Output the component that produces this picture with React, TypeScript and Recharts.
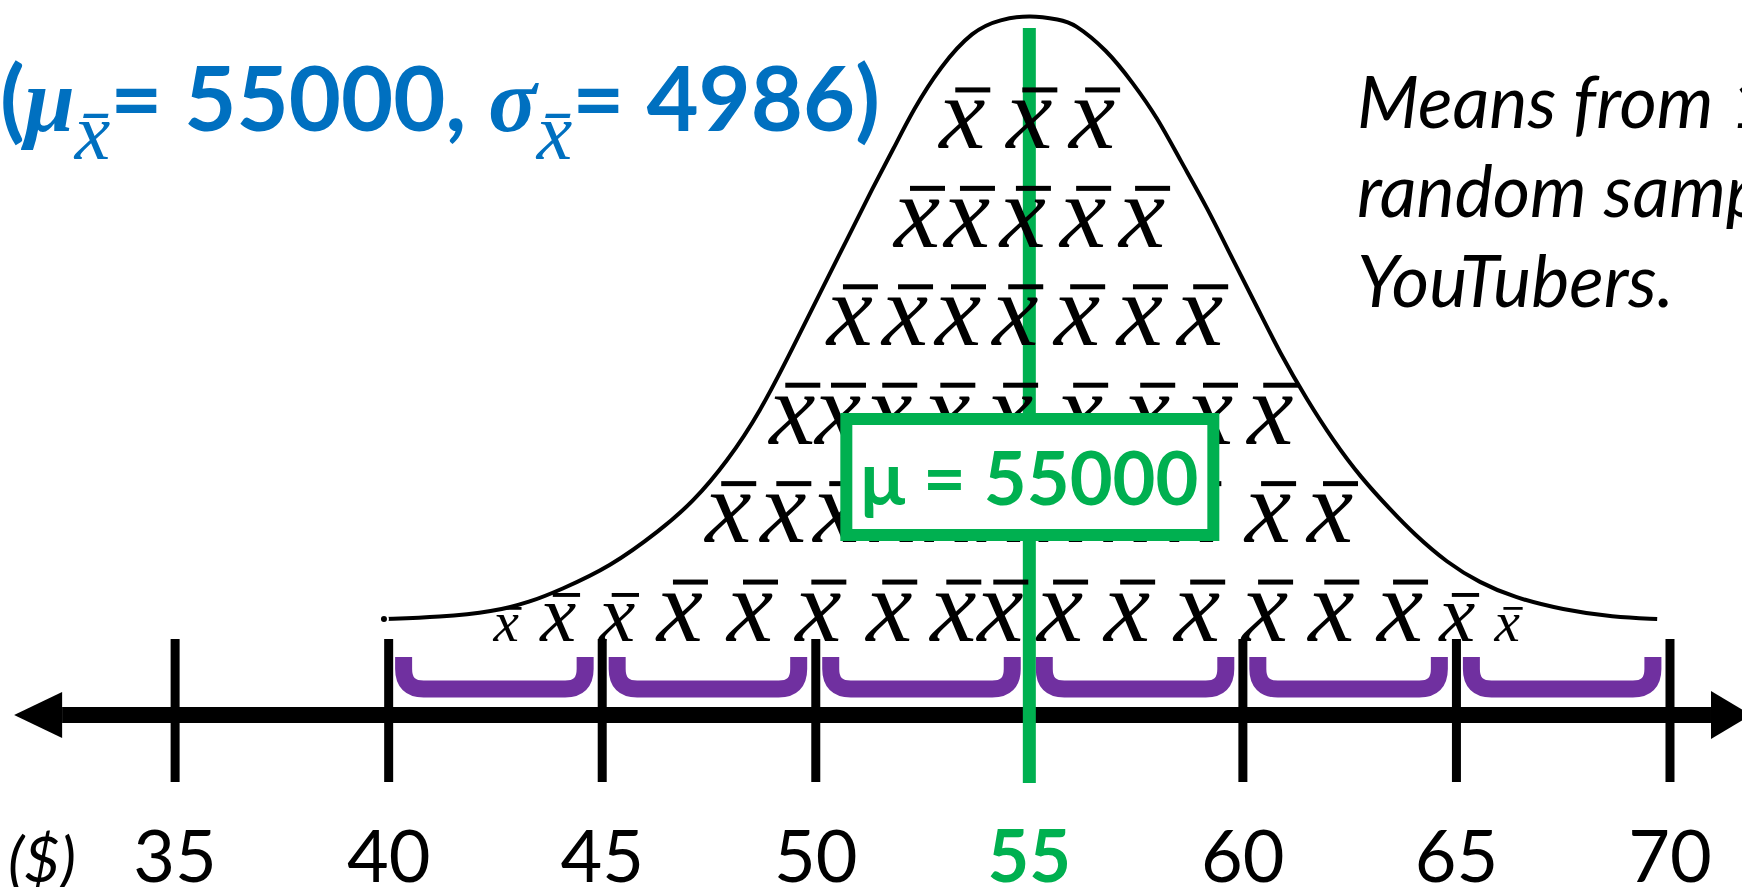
import React from "react";
import {
  ComposedChart,
  Line,
  Scatter,
  XAxis,
  YAxis,
  ReferenceLine,
  ReferenceDot,
  ReferenceArea,
} from "recharts";

// sampling distribution of the mean, in $1000s
const MEAN = 55;
const tickValues = [35, 40, 45, 50, 55, 60, 65, 70];

// bell curve (x in $1000s, height in % of the peak)
const curveX = [
  39.89, 41.2, 42.45, 43.31, 44.01, 45.18, 46.36, 47.13, 47.92, 48.7, 49.47,
  50.1, 50.73, 51.34, 51.81, 52.28, 52.91, 53.68, 54.32, 55.02, 55.72, 56.03,
  56.82, 57.43, 57.99, 58.53, 59.16, 59.77, 60.33, 60.87, 61.5, 62.11, 62.75,
  63.52, 63.99, 64.78, 65.55, 66.33, 67.5, 68.67, 69.7,
];
const curveHeight = [
  0, 0.3, 1.2, 2.8, 4.8, 8.6, 14.7, 19.4, 26.0, 34.3, 45.0, 54.0, 62.8, 71.5,
  77.7, 84.3, 91.4, 97.5, 99.3, 100, 99.2, 98.7, 94.2, 88.7, 83.1, 76.0, 68.2,
  59.4, 51.7, 44.0, 36.3, 29.6, 23.5, 17.6, 14.2, 9.3, 6.0, 3.6, 1.5, 0.3, 0,
];

// each x-bar is one sample mean, stacked in rows (row 1 = bottom)
const row1 = [
  42.75, 43.97, 45.35, 46.82, 48.46, 50.06, 51.72, 53.22, 54.32, 55.72, 57.29,
  58.93, 60.52, 62.07, 63.68, 65.02, 66.19,
];
const row2 = [47.95, 49.24, 50.48, 51.81, 53.1, 54.32, 55.77, 57.29, 58.84, 60.59, 62.04];
const row3 = [49.45, 50.52, 51.72, 53.08, 54.55, 56.19, 57.76, 59.23, 60.64];
const row4 = [50.8, 52.09, 53.33, 54.67, 56.12, 57.59, 59.0];
const row5 = [52.37, 53.54, 54.85, 56.26, 57.64];
const row6 = [53.43, 55.0, 56.47];
const rows = [row1, row2, row3, row4, row5, row6];

// purple brackets: one per $5000 bin
const binStarts = [40, 45, 50, 55, 60, 65];
const BIN_WIDTH = 5;

const GREEN = "#00B050";
const BLUE = "#0070C0";
const PURPLE = "#7030A0";
const SANS = "Lato, 'Open Sans', sans-serif";
const SERIF = "'Liberation Serif', 'DejaVu Serif', serif";

const curveData = curveX.map((x, i) => ({ x, h: curveHeight[i] }));
const meanData = rows.flatMap((row, i) => row.map((x) => ({ x, level: i + 1 })));

const XBar = (props: any) => {
  const { cx, cy, payload } = props;
  if (cx == null || cy == null) return null;
  const d = Math.abs(payload.x - MEAN);
  const s = d > 11.1 ? 0.55 : d > 9.5 ? 0.78 : 1;
  const gy = cy + 24 * (1 - s);
  return (
    <g>
      <text
        x={cx}
        y={gy + 24 * s}
        textAnchor="middle"
        fontFamily={SERIF}
        fontStyle="italic"
        fontSize={104 * s}
        fill="#000"
      >
        x
      </text>
      <rect x={cx - 7 * s} y={gy - 37 * s} width={35 * s} height={5 * s} fill="#000" />
    </g>
  );
};

const Bracket = (props: any) => {
  const { x, y, width, height } = props;
  const r = 20;
  const d = `M${x},${y - 4} L${x},${y + height - r} Q${x},${y + height} ${x + r},${y + height} L${x + width - r},${y + height} Q${x + width},${y + height} ${x + width},${y + height - r} L${x + width},${y - 4}`;
  return <path d={d} fill="none" stroke={PURPLE} strokeWidth={17} />;
};

const LeftHead = (props: any) => {
  const { cx, cy } = props;
  return <polygon points={`${cx},${cy - 23} ${cx - 48},${cy} ${cx},${cy + 23}`} fill="#000" />;
};

const RightHead = (props: any) => {
  const { cx, cy } = props;
  return <polygon points={`${cx},${cy - 24} ${cx + 40},${cy} ${cx},${cy + 24}`} fill="#000" />;
};

const MeanBox = (props: any) => {
  const { cx, cy } = props;
  return (
    <g>
      <rect x={cx - 183} y={cy - 58} width={367} height={116} fill="#fff" stroke={GREEN} strokeWidth={12} />
      <text x={cx} y={cy + 28} textAnchor="middle" fontFamily={SANS} fontWeight={700} fontSize={74} fill={GREEN}>
        μ = 55000
      </text>
    </g>
  );
};

const TickLabel = (props: any) => {
  const { x, y, payload } = props;
  const isMean = payload.value === MEAN;
  return (
    <text
      x={x}
      y={y + 95}
      textAnchor="middle"
      fontFamily={SANS}
      fontSize={72}
      fontWeight={isMean ? 700 : 400}
      fill={isMean ? GREEN : "#000"}
    >
      {payload.value}
    </text>
  );
};

export default function App() {
  return (
    <div style={{ position: "absolute", left: 0, top: 0, width: 1742, height: 887, background: "#fff" }}>
      <ComposedChart width={1742} height={887} margin={{ top: 0, right: 0, bottom: 0, left: 0 }}>
        <XAxis
          dataKey="x"
          type="number"
          domain={[30.9, 71.686]}
          allowDataOverflow
          ticks={tickValues}
          interval={0}
          height={100}
          tickSize={0}
          tickMargin={0}
          axisLine={false}
          tickLine={false}
          tick={<TickLabel />}
        />
        <YAxis yAxisId="dens" type="number" domain={[-27.81, 102.48]} allowDataOverflow hide />
        <YAxis yAxisId="count" type="number" domain={[-0.7315, 7.264]} allowDataOverflow hide />

        <Line
          yAxisId="dens"
          data={curveData}
          dataKey="h"
          type="basis"
          stroke="#000"
          strokeWidth={4}
          dot={false}
          isAnimationActive={false}
        />
        <Scatter yAxisId="count" data={meanData} dataKey="level" shape={<XBar />} isAnimationActive={false} />

        {binStarts.map((b) => (
          <ReferenceArea
            key={b}
            yAxisId="count"
            x1={b + 0.35}
            x2={b + BIN_WIDTH - 0.4}
            y1={0.264}
            y2={0.549}
            shape={<Bracket />}
          />
        ))}

        <ReferenceLine
          yAxisId="count"
          segment={[
            { x: 32.354, y: 0 },
            { x: 70.96, y: 0 },
          ]}
          stroke="#000"
          strokeWidth={16}
          ifOverflow="visible"
        />
        <ReferenceDot yAxisId="count" x={32.354} y={0} shape={<LeftHead />} ifOverflow="visible" />
        <ReferenceDot yAxisId="count" x={70.96} y={0} shape={<RightHead />} ifOverflow="visible" />
        {tickValues
          .filter((t) => t !== MEAN)
          .map((t) => (
            <ReferenceLine
              key={t}
              yAxisId="count"
              segment={[
                { x: t, y: 0.772 },
                { x: t, y: -0.681 },
              ]}
              stroke="#000"
              strokeWidth={9}
            />
          ))}

        <ReferenceLine
          yAxisId="count"
          segment={[
            { x: MEAN, y: 6.98 },
            { x: MEAN, y: -0.691 },
          ]}
          stroke={GREEN}
          strokeWidth={13}
        />
        <ReferenceDot yAxisId="count" x={MEAN} y={2.418} shape={<MeanBox />} ifOverflow="visible" />
      </ComposedChart>

      <svg
        width={1742}
        height={887}
        style={{ position: "absolute", left: 0, top: 0, pointerEvents: "none" }}
      >
        <text x={0} y={131} fill={BLUE} fontFamily={SANS} fontWeight={700} fontSize={90}>
          <tspan>(</tspan>
          <tspan fontFamily={SERIF} fontStyle="italic">μ</tspan>
          <tspan fontFamily={SERIF} fontStyle="italic" fontWeight={400} fontSize={80} dy={28}>
            x̄
          </tspan>
          <tspan dy={-28}>= 55000, </tspan>
          <tspan fontFamily={SERIF} fontStyle="italic">σ</tspan>
          <tspan fontFamily={SERIF} fontStyle="italic" fontWeight={400} fontSize={80} dy={28}>
            x̄
          </tspan>
          <tspan dy={-28}>= 4986)</tspan>
        </text>

        <g fontFamily={SANS} fontStyle="italic" fontSize={72} fill="#000">
          <text x={1357} y={128}>Means from 1000</text>
          <text x={1357} y={217}>random samples of</text>
          <text x={1357} y={307}>YouTubers.</text>
        </g>

        <text x={8} y={882} fontFamily={SANS} fontStyle="italic" fontSize={62} fill="#000">
          ($)
        </text>
      </svg>
    </div>
  );
}
